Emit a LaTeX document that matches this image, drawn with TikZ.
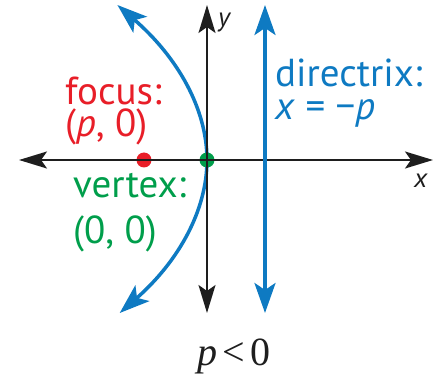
\documentclass[tikz,border=0pt]{standalone}
\usepackage{fontspec}
\setmainfont{PT Sans}
\newfontfamily\condserif{Liberation Serif}
\usetikzlibrary{arrows.meta}
\definecolor{pblue}{RGB}{14,122,194}
\definecolor{pred}{RGB}{232,30,40}
\definecolor{pgreen}{RGB}{0,158,75}
\definecolor{axisblack}{RGB}{30,30,30}
\tikzset{
  axisline/.style={draw=axisblack, line width=2pt, {Stealth[length=28pt,width=17pt,inset=6pt]}-{Stealth[length=28pt,width=17pt,inset=6pt]}},
  blueline/.style={draw=pblue, line width=3.5pt, {Stealth[length=30pt,width=21pt,inset=7pt]}-{Stealth[length=30pt,width=21pt,inset=7pt]}},
  bluecurve/.style={draw=pblue, line width=3.5pt, -{Stealth[length=30pt,width=21pt,inset=7pt]}},
  lbl/.style={inner sep=0pt, anchor=base west, font=\fontsize{39}{32}\selectfont},
  axlbl/.style={inner sep=0pt, anchor=base west, font=\fontsize{27}{30}\selectfont\itshape, text=axisblack},
  dot/.style={circle, inner sep=0pt, minimum size=15pt}
}
\begin{document}
\begin{tikzpicture}[x=1pt,y=-1pt]
\useasboundingbox (0,0) rectangle (442,377);
% parabola: two halves from the vertex
\coordinate (V0) at (207,160);
\coordinate (pt) at (117.4,5);
\coordinate (pb) at (119.7,313);
\draw[bluecurve] (V0) .. controls (207,108.3) and (177.1,56.7) .. (pt);
\draw[bluecurve] (V0) .. controls (207,211) and (177.9,262) .. (pb);
% dots
\node[dot, fill=pred] (F) at (144,160) {};
\node[dot, fill=pgreen] (V) at (207,160) {};
% axes
\coordinate (xl) at (19,160);
\coordinate (xr) at (433,160);
\coordinate (yt) at (207,5);
\coordinate (yb) at (207,313);
\draw[axisline] (xl) -- (xr);
\draw[axisline] (yb) -- (yt);
% directrix
\coordinate (dt) at (265,5);
\coordinate (db) at (265,313);
\draw[blueline] (db) -- (dt);
% labels
\node[lbl, text=pred] (f1) at (65,105) {focus:};
\node[lbl, text=pred] (f2) at (65,137) {(\textit{p}, 0)};
\node[lbl, text=pblue] (d1) at (275,87) {directrix:};
\node[lbl, text=pblue] (d2) at (275,120) {\textit{x} = −\textit{p}};
\node[lbl, text=pgreen] (v1) at (73,197) {vertex:};
\node[lbl, text=pgreen] (v2) at (73,243) {(0, 0)};
\node[axlbl] (ylab) at (218,27) {y};
\node[axlbl] (xlab) at (414,187) {x};
\node[inner sep=0pt, anchor=base, font=\fontsize{40}{42}\condserif, text=axisblack] (cond) at (234,365) {\textit{p}\hspace{5pt}<\hspace{5pt}0};
\end{tikzpicture}
\end{document}
